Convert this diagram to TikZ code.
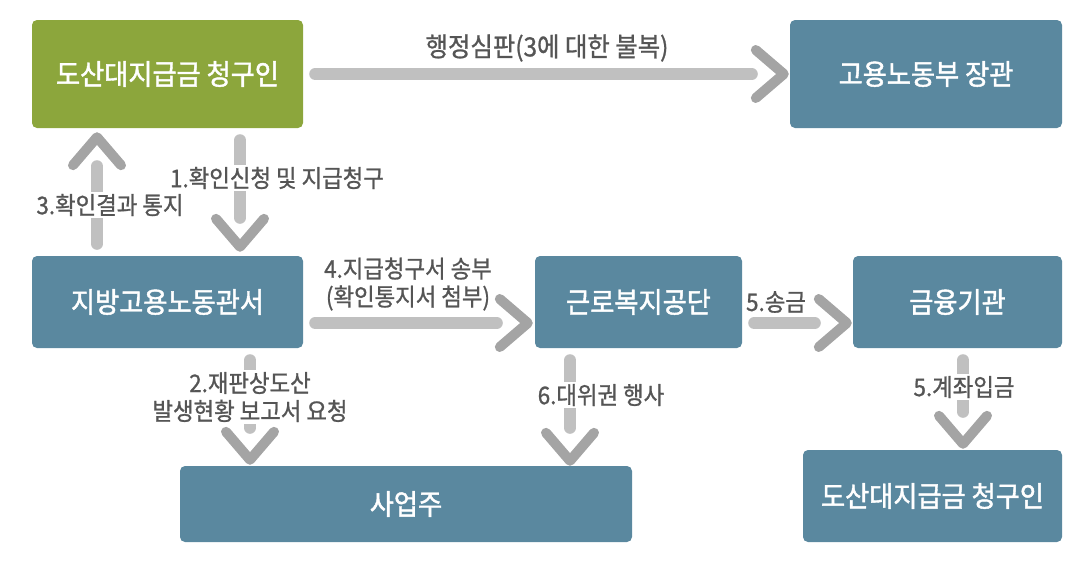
\documentclass[tikz,border=0pt]{standalone}
\usepackage{fontspec}
\setmainfont{Noto Sans CJK KR}[FakeStretch=0.92]
\newfontfamily\boxfont{Noto Sans CJK KR}[FakeStretch=0.92, FakeBold=1.5]
\newfontfamily\lblfont{Noto Sans CJK KR}[FakeStretch=0.92, FakeBold=1]
\usetikzlibrary{calc}
\definecolor{boxgreen}{HTML}{8CA63C}
\definecolor{boxblue}{HTML}{5A889F}
\definecolor{linegray}{HTML}{C0C0C0}
\definecolor{chevgray}{HTML}{A4A4A4}
\definecolor{labelgray}{HTML}{555555}
\begin{document}
\begin{tikzpicture}[x=1pt,y=-1pt,
  box/.style={rounded corners=5pt, text=white, font=\boxfont\fontsize{28.5}{32}\selectfont, inner sep=0pt, anchor=center},
  greenbox/.style={box, fill=boxgreen},
  bluebox/.style={box, fill=boxblue},
  conn/.style={draw=linegray, line width=12pt, line cap=round, shorten <=12pt, shorten >=38pt},
  chevst/.style={draw=chevgray, line width=10pt, line cap=round, line join=round},
  lbl/.style={text=labelgray, font=\lblfont\fontsize{24.3}{28}\selectfont, inner sep=2pt, align=center},
  lblw/.style={lbl, fill=white},
  chevR/.pic={\draw[chevst] (-28,-24) -- (0,0) -- (-28,24);},
  chevD/.pic={\draw[chevst] (-24,-28) -- (0,0) -- (24,-28);},
  chevU/.pic={\draw[chevst] (-24,28) -- (0,0) -- (24,28);}
]
\useasboundingbox (0,0) rectangle (1084,566);

% boxes
\node[greenbox, minimum width=271pt, minimum height=108pt] (g) at (167.5,74) {도산대지급금 청구인};
\node[bluebox, minimum width=272pt, minimum height=108pt] (m) at (926,74) {고용노동부 장관};
\node[bluebox, minimum width=271pt, minimum height=92pt] (j) at (167.5,302) {지방고용노동관서};
\node[bluebox, minimum width=207pt, minimum height=92pt] (k) at (638.5,302) {근로복지공단};
\node[bluebox, minimum width=209pt, minimum height=92pt] (f) at (957.5,302) {금융기관};
\node[bluebox, minimum width=452pt, minimum height=76pt] (s) at (406,504) {사업주};
\node[bluebox, minimum width=259pt, minimum height=92pt] (c) at (932.5,496) {도산대지급금 청구인};

% helper coordinates
\coordinate (y4) at (0,323);
\coordinate (x1) at (240,0);
\coordinate (x3) at (97,0);
\coordinate (x2) at (250,0);
\coordinate (x6) at (570,0);
\coordinate (x5) at (963,0);

% connectors
\draw[conn] (g.east) -- (m.west);
\pic at ($(m.west)+(-6,0)$) {chevR};

\draw[conn] (g.south -| x1) -- (j.north -| x1);
\pic at ($(j.north -| x1)+(0,-9)$) {chevD};

\draw[conn] (j.north -| x3) -- (g.south -| x3);
\pic at ($(g.south -| x3)+(0,9)$) {chevU};

\draw[conn] (j.east |- y4) -- (k.west |- y4);
\pic at ($(k.west |- y4)+(-7,0)$) {chevR};

\draw[conn] (k.east |- y4) -- (f.west |- y4);
\pic at ($(f.west |- y4)+(-6,0)$) {chevR};

\draw[conn] (j.south -| x2) -- (s.north -| x2);
\pic at ($(s.north -| x2)+(0,-6)$) {chevD};

\draw[conn] (k.south -| x6) -- (s.north -| x6);
\pic at ($(s.north -| x6)+(0,-5)$) {chevD};

\draw[conn] (f.south -| x5) -- (c.north -| x5);
\pic at ($(c.north -| x5)+(0,-6)$) {chevD};

% labels
\node[lbl, font=\lblfont\fontsize{26.5}{28}\selectfont] (l0) at (547,48) {행정심판(3에 대한 불복)};
\node[lblw] (l1) at (277,178) {1.확인신청 및 지급청구};
\node[lblw] (l3) at (110,205) {3.확인결과 통지};
\node[lbl] (l4) at (408,284) {4.지급청구서 송부\\(확인통지서 첨부)};
\node[lbl] (l5a) at (776,302) {5.송금};
\node[lblw] (l2) at (250,397) {2.재판상도산\\발생현황 보고서 요청};
\node[lblw] (l6) at (601,395) {6.대위권 행사};
\node[lblw] (l5b) at (964,387) {5.계좌입금};
\end{tikzpicture}
\end{document}
